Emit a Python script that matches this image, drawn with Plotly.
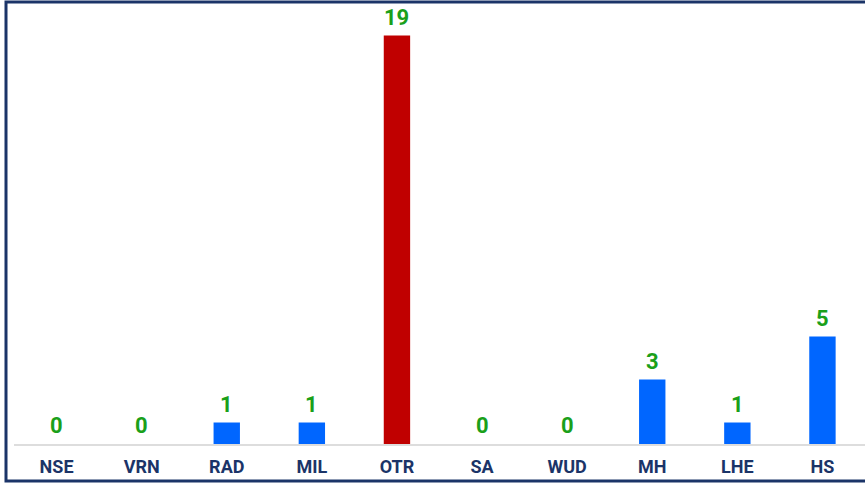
import plotly.graph_objects as go

categories = ["NSE", "VRN", "RAD", "MIL", "OTR", "SA", "WUD", "MH", "LHE", "HS"]
values = [0, 0, 1, 1, 19, 0, 0, 3, 1, 5]
highlight = "OTR"

BLUE = "#0066FF"
RED = "#C00000"
GREEN = "#1AA01A"
NAVY = "#1B3468"

colors = [RED if c == highlight else BLUE for c in categories]

fig = go.Figure()
fig.add_trace(go.Bar(
    x=categories, y=values, marker=dict(color=colors, line=dict(width=0)),
    width=0.31, hoverinfo="x+y",
))

for c, v in zip(categories, values):
    fig.add_annotation(
        x=c, y=v, text=str(v), showarrow=False, yanchor="bottom", yshift=4,
        font=dict(family="Roboto", size=22, color=GREEN, weight="bold"),
    )

L, R, T, B = 14, 0, 14, 41
W, H = 865, 485
pw = W - L - R
ph = H - T - B

def px(x):
    return (x - L) / pw

def py(y):
    return (H - B - y) / ph

fig.add_shape(type="rect", xref="paper", yref="paper",
              x0=px(6), x1=px(875), y0=py(481), y1=py(2),
              line=dict(color=NAVY, width=3), fillcolor="rgba(0,0,0,0)", layer="above")

fig.update_layout(
    width=W, height=H,
    margin=dict(l=L, r=R, t=T, b=B, pad=0),
    plot_bgcolor="white", paper_bgcolor="white",
    showlegend=False,
    xaxis=dict(
        showline=True, linecolor="#DDDDDD", linewidth=1.5,
        showgrid=False, ticks="", ticklen=0, ticklabelstandoff=6,
        tickfont=dict(family="Roboto", size=18, color=NAVY, weight="bold"),
    ),
    yaxis=dict(range=[0, 20], visible=False, showgrid=False, zeroline=False),
)

fig.write_html(
    "out.html",
    config={"displayModeBar": False},
    post_script="document.body.style.margin='0';document.body.style.overflow='hidden';",
)
